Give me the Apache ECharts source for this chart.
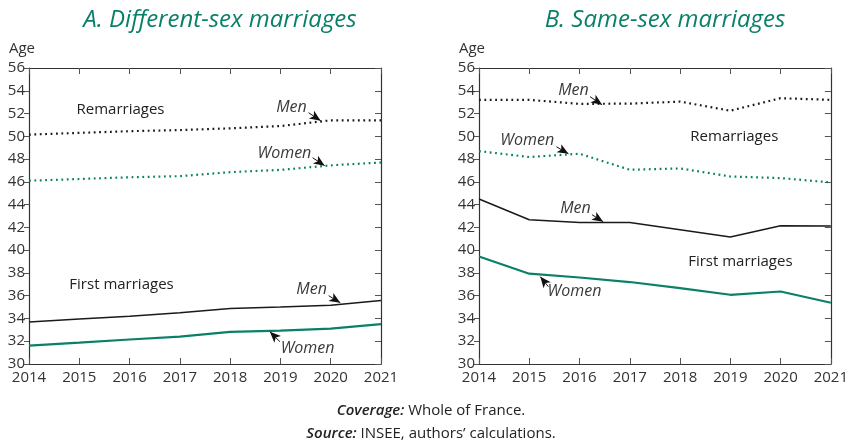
<!DOCTYPE html>
<html>
<head>
<meta charset="utf-8">
<script src="https://cdn.jsdelivr.net/npm/echarts@6/dist/echarts.min.js"></script>
<style>
  html, body { margin: 0; padding: 0; background: #fff; }
  #chart { width: 851px; height: 448px; }
</style>
</head>
<body>
<div id="chart"></div>
<script>
const years = [2014, 2015, 2016, 2017, 2018, 2019, 2020, 2021];

// A. Different-sex marriages
const diffRemarMen = [50.15, 50.3, 50.45, 50.55, 50.7, 50.9, 51.4, 51.4];
const diffRemarWomen = [46.1, 46.25, 46.4, 46.5, 46.85, 47.05, 47.45, 47.7];
const diffFirstMen = [33.7, 33.95, 34.2, 34.5, 34.88, 35.0, 35.15, 35.58];
const diffFirstWomen = [31.62, 31.88, 32.15, 32.4, 32.82, 32.94, 33.1, 33.5];

// B. Same-sex marriages
const sameRemarMen = [53.2, 53.2, 52.85, 52.87, 53.05, 52.25, 53.35, 53.2];
const sameRemarWomen = [48.7, 48.18, 48.47, 47.06, 47.18, 46.47, 46.33, 45.95];
const sameFirstMen = [44.49, 42.67, 42.43, 42.43, 41.8, 41.15, 42.14, 42.12];
const sameFirstWomen = [39.45, 37.93, 37.6, 37.2, 36.67, 36.08, 36.37, 35.38];

const yTicks = [30, 32, 34, 36, 38, 40, 42, 44, 46, 48, 50, 52, 54, 56];

const GREEN = '#0a8068';
const DARK = '#1a1a1a';
const TEXT = '#333333';
const FONT = '"Open Sans", "Noto Sans", sans-serif';

// annotation labels: [grid, text, x, y, italic, arrowFrom, arrowTo]
const notes = [
  [0, 'Remarriages', 2015.82, 52.34, false],
  [0, 'Men', 2019.22, 52.51, true, [2019.56, 52.07], [2019.80, 51.37]],
  [0, 'Women', 2019.08, 48.47, true, [2019.64, 48.12], [2019.88, 47.42]],
  [0, 'First marriages', 2015.84, 36.97, false],
  [0, 'Men', 2019.62, 36.53, true, [2019.96, 36.0], [2020.19, 35.38]],
  [0, 'Women', 2019.54, 31.35, true, [2018.99, 31.96], [2018.79, 32.84]],
  [1, 'Men', 2015.88, 54.0, true, [2016.21, 53.48], [2016.45, 52.77]],
  [1, 'Women', 2014.96, 49.61, true, [2015.54, 49.08], [2015.78, 48.47]],
  [1, 'Remarriages', 2019.08, 49.97, false],
  [1, 'Men', 2015.92, 43.64, true, [2016.25, 43.11], [2016.47, 42.5]],
  [1, 'First marriages', 2019.2, 38.99, false],
  [1, 'Women', 2015.9, 36.35, true, [2015.38, 36.79], [2015.22, 37.67]]
];

const pair = vals => years.map((y, i) => [y, vals[i]]);

const grids = [
  { left: 29, top: 68, width: 352, height: 296 },
  { left: 479, top: 68, width: 352, height: 296 }
];

const xAxes = [];
const yAxes = [];
grids.forEach((g, gi) => {
  // bottom
  xAxes.push({
    type: 'value', gridIndex: gi, min: 2014, max: 2021, interval: 1,
    axisLine: { lineStyle: { color: TEXT, width: 1.2 } },
    axisTick: { inside: true, length: 6, lineStyle: { color: '#555' } },
    axisLabel: { color: TEXT, fontSize: 15, fontFamily: FONT, margin: 6, formatter: v => String(v) },
    splitLine: { show: false }
  });
  // top
  xAxes.push({
    type: 'value', gridIndex: gi, position: 'top', min: 2014, max: 2021, interval: 1,
    axisLine: { lineStyle: { color: TEXT, width: 1.2 } },
    axisTick: { inside: true, length: 6, lineStyle: { color: '#555' } },
    axisLabel: { show: false },
    splitLine: { show: false }
  });
  yAxes.push({
    type: 'value', gridIndex: gi, min: 30, max: 56, interval: 2,
    name: 'Age', nameLocation: 'end', nameGap: 12,
    nameTextStyle: { color: TEXT, fontSize: 15, fontFamily: FONT, align: 'center', padding: [0, 14, 0, 0] },
    axisLine: { show: true, lineStyle: { color: TEXT, width: 1.2 } },
    axisTick: { show: true, inside: false, length: 5, lineStyle: { color: '#555' } },
    axisLabel: { color: TEXT, fontSize: 15, fontFamily: FONT, margin: 4,
      formatter: v => yTicks.includes(v) ? String(v) : '' },
    splitLine: { show: false }
  });
  yAxes.push({
    type: 'value', gridIndex: gi, position: 'right', min: 30, max: 56, interval: 2,
    axisLine: { show: true, lineStyle: { color: TEXT, width: 1.2 } },
    axisTick: { show: true, inside: true, length: 6, lineStyle: { color: '#555' } },
    axisLabel: { show: false },
    splitLine: { show: false }
  });
});

function lineSeries(gi, vals, color, dotted) {
  return {
    type: 'line', xAxisIndex: gi * 2, yAxisIndex: gi * 2,
    data: pair(vals), showSymbol: false, symbol: 'none', silent: true,
    lineStyle: dotted
      ? { color: color, width: 2.2, type: [1.8, 3.6], cap: 'butt' }
      : { color: color, width: color === GREEN ? 2.2 : 1.5 },
    z: 3
  };
}

const series = [
  lineSeries(0, diffRemarMen, DARK, true),
  lineSeries(0, diffRemarWomen, GREEN, true),
  lineSeries(0, diffFirstMen, DARK, false),
  lineSeries(0, diffFirstWomen, GREEN, false),
  lineSeries(1, sameRemarMen, DARK, true),
  lineSeries(1, sameRemarWomen, GREEN, true),
  lineSeries(1, sameFirstMen, DARK, false),
  lineSeries(1, sameFirstWomen, GREEN, false)
];

// annotation texts and arrows, placed in data coordinates
[0, 1].forEach(gi => {
  const own = notes.filter(n => n[0] === gi);
  series.push({
    type: 'scatter', xAxisIndex: gi * 2, yAxisIndex: gi * 2, data: [], silent: true,
    markPoint: {
      symbol: 'circle', symbolSize: 0, silent: true,
      data: own.map(n => ({
        coord: [n[2], n[3]],
        label: {
          show: true, position: 'inside', formatter: n[1],
          color: n[4] ? '#3a3a3a' : '#222', fontSize: n[4] ? 16 : 15, fontFamily: FONT,
          fontStyle: n[4] ? 'italic' : 'normal'
        }
      }))
    },
    markLine: {
      silent: true, symbol: ['none', 'arrow'], symbolSize: [7, 11],
      label: { show: false },
      lineStyle: { color: '#111', width: 1, type: 'solid' },
      data: own.filter(n => n[5]).map(n => [{ coord: n[5] }, { coord: n[6] }])
    }
  });
});

const footStyle = {
  color: '#222', fontSize: 15, fontWeight: 'normal', fontFamily: FONT,
  rich: { i: { fontStyle: 'italic', fontWeight: 600, fontSize: 15, fontFamily: FONT, color: '#222' } }
};

const chart = echarts.init(document.getElementById('chart'), null, { renderer: 'canvas' });
chart.setOption({
  animation: false,
  backgroundColor: '#fff',
  title: [
    { text: 'A. Different-sex marriages', left: 215, top: 3, textAlign: 'center',
      textStyle: { color: GREEN, fontSize: 24, fontStyle: 'italic', fontWeight: 'normal', fontFamily: FONT } },
    { text: 'B. Same-sex marriages', left: 660, top: 3, textAlign: 'center',
      textStyle: { color: GREEN, fontSize: 24, fontStyle: 'italic', fontWeight: 'normal', fontFamily: FONT } },
    { text: '{i|Coverage:} Whole of France.', left: 426, top: 398, textAlign: 'center', textStyle: footStyle },
    { text: '{i|Source:} INSEE, authors\u2019 calculations.', left: 426, top: 421, textAlign: 'center', textStyle: footStyle }
  ],
  grid: grids,
  xAxis: xAxes,
  yAxis: yAxes,
  series: series
});
</script>
</body>
</html>
